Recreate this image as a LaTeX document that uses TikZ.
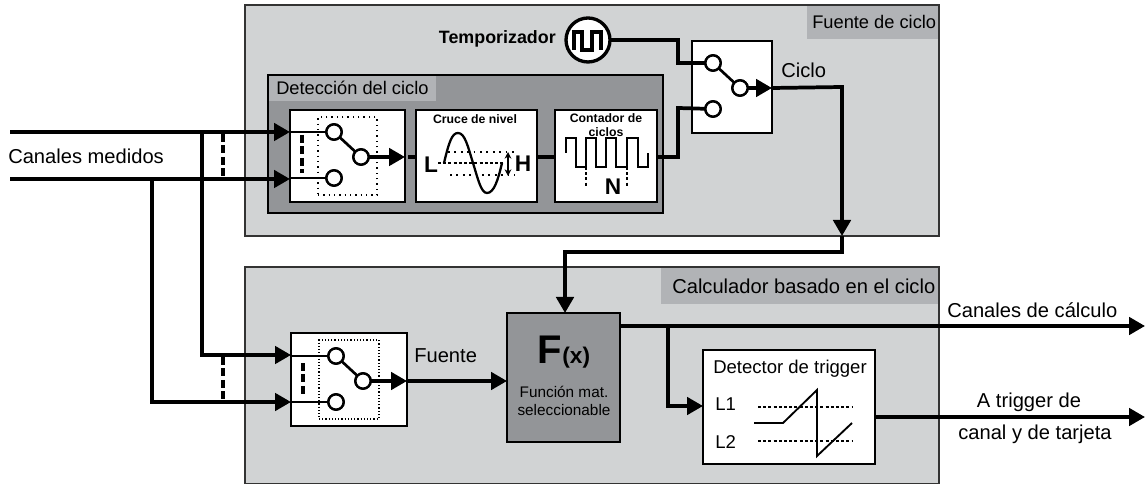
\documentclass[tikz,border=0pt]{standalone}
\usepackage{fontspec}
\setmainfont{Liberation Sans}
\usetikzlibrary{arrows.meta}
\definecolor{panel}{HTML}{D1D3D4}
\definecolor{tag}{HTML}{B1B3B6}
\definecolor{dark}{HTML}{939598}
\newcommand{\PxBox}[6]{\node[#6,minimum width={(#4-#2)*0.75pt},minimum height={(#5-#3)*0.75pt}] (#1) at ({(#2+#4)/2},{(#3+#5)/2}) {};}
\newcommand{\SwitchParts}[3]{%
  \node[swc] (#1a) at (#2,#3) {};
  \node[swc] (#1b) at (#2+27,#3+25) {};
  \node[swc] (#1c) at (#2,#3+46) {};
  \draw[thin line] (#1a) -- (#1b);
}
\tikzset{
  x=0.75pt,y=-0.75pt,
  pan/.style={draw=black!80,line width=0.9pt,fill=panel,inner sep=0pt,outer sep=0pt},
  tagbox/.style={fill=tag,inner sep=0pt,outer sep=0pt},
  darkbox/.style={draw=black,line width=1.4pt,fill=dark,inner sep=0pt,outer sep=0pt},
  wbox/.style={draw=black,line width=1.7pt,fill=white,inner sep=0pt,outer sep=0pt},
  dotbox/.style={draw=black,line width=1pt,dash pattern=on 1pt off 3pt,inner sep=0pt,outer sep=0pt},
  dotboxfine/.style={draw=black,line width=0.9pt,dash pattern=on 0.9pt off 1.5pt,inner sep=0pt,outer sep=0pt},
  swc/.style={circle,draw=black,line width=1.8pt,fill=white,minimum size=11.5pt,inner sep=0pt,outer sep=0pt},
  thick line/.style={draw=black,line width=2.8pt},
  thin line/.style={draw=black,line width=2pt},
  wire/.style={thick line,-{Triangle[length=12pt,width=13pt]}},
  inwire/.style={draw=black,line width=2pt},
  dashline/.style={draw=black,line width=2.8pt,dash pattern=on 6pt off 2.6pt},
  txt/.style={font=\fontsize{15.1pt}{17pt}\selectfont,inner sep=0pt},
  txtb/.style={font=\fontsize{13.7pt}{15pt}\selectfont,inner sep=0pt},
  bsm/.style={font=\fontsize{9.2pt}{10.5pt}\selectfont\bfseries,inner sep=0pt,align=center},
  blab/.style={inner sep=0pt,font=\fontsize{17pt}{18pt}\selectfont\bfseries},
  dotl/.style={draw=black,line width=1.3pt,dash pattern=on 1.4pt off 3.4pt},
  dashl/.style={draw=black,line width=1.2pt,dash pattern=on 2.3pt off 1.6pt},
}
\begin{document}
\begin{tikzpicture}
\useasboundingbox (0,0) rectangle (1145,484);
% panels
\PxBox{top}{245}{5}{939}{236}{pan}
\PxBox{topTag}{807}{6}{938}{39}{tagbox}
\PxBox{bot}{245}{267}{939}{484}{pan}
\PxBox{botTag}{661}{268}{938}{304}{tagbox}
\PxBox{det}{268}{75}{663}{213}{darkbox}
\PxBox{detTag}{269}{76}{436}{101}{tagbox}
\node[txtb,anchor=west] (tTop) at (812,22) {Fuente de ciclo};
\node[txt,anchor=west] (tBot) at (672,286) {Calculador basado en el ciclo};
\node[txtb,anchor=west] (tDet) at (276,88) {Detección del ciclo};
% boxes
\PxBox{s1}{290}{110}{405}{202}{wbox}
\PxBox{lvl}{416}{110}{537}{202}{wbox}
\PxBox{cnt}{555}{110}{657}{202}{wbox}
\PxBox{s2}{692}{41}{772}{133}{wbox}
\PxBox{s3}{291}{333}{407}{426}{wbox}
\PxBox{fx}{507}{313}{620}{442}{darkbox}
\PxBox{trg}{703}{350}{875}{464}{wbox}
\node[circle,draw=black,line width=2.5pt,fill=white,minimum size=33pt,inner sep=0pt,outer sep=0pt] (tmr) at (588,40) {};
% named ends
\coordinate (inA) at (10,132);
\coordinate (inB) at (10,179);
\coordinate (jA) at (202,132);
\coordinate (jB) at (152,179);
\coordinate (outA) at (1145,326);
\coordinate (outB) at (1145,417);
\coordinate (cyc) at (842,236);
\coordinate (branch) at (668,326);
\coordinate (dA1) at (223,134);
\coordinate (dA2) at (223,178);
\coordinate (dB1) at (223,357);
\coordinate (dB2) at (223,400);
% dotted frames
\PxBox{d1}{318}{117}{377}{195}{dotbox}
\PxBox{d3}{319}{340}{379}{419}{dotboxfine}
% input wiring
\draw[wire] (inA) -- (inA -| s1.west);
\draw[wire] (inB) -- (inB -| s1.west);
\draw[wire] (jA) -- (202,355) -- (291,355);
\draw[wire] (jB) -- (152,402) -- (291,402);
\draw[dashline] (dA1) -- (dA2);
\draw[dashline] (dB1) -- (dB2);
% switches
\SwitchParts{p}{334}{132}
\SwitchParts{q}{713}{63}
\SwitchParts{r}{336}{356}
\draw[inwire] (s1.west |- pa) -- (pa);
\draw[inwire] (s1.west |- pc) -- (pc);
\draw[inwire] (s3.west |- ra) -- (ra);
\draw[inwire] (s3.west |- rc) -- (rc);
\draw[dashline] (302,135) -- (302,173);
\draw[dashline] (303,363) -- (303,397);
\draw[wire] (pb) -- (pb -| s1.east);
\draw[wire] (rb) -- (rb -| s3.east);
\draw[wire] (qb) -- (qb -| s2.east);
% main wiring
\draw[thick line] (s1.east |- pb) ++(3,0) -- (lvl.west |- pb);
\draw[thick line] (lvl.east |- pb) -- (cnt.west |- pb);
\draw[thick line] (cnt.east |- pb) -- (678,157) -- (678,108) -- (qc);
\draw[thick line] (tmr) -- (678,40) -- (678,63) -- (qa);
\draw[wire] (s2.east |- qb) -- (842,87) -- (cyc);
\draw[wire,-{Triangle[length=12pt,width=13pt]}] (cyc) -- (842,252) -- (565,252) -- (565,313);
\draw[wire] (s3.east |- rb) -- (fx.west |- rb);
\draw[wire] (620,326) -- (outA);
\draw[wire] (branch) -- (668,406) -- (703,406);
\draw[wire] (875,417) -- (outB);
% redraw circles above wires
\node[swc] at (pa) {}; \node[swc] at (pb) {}; \node[swc] at (pc) {};
\node[swc] at (qa) {}; \node[swc] at (qb) {}; \node[swc] at (qc) {};
\node[swc] at (ra) {}; \node[swc] at (rb) {}; \node[swc] at (rc) {};
% timer glyph
\draw[draw=black,line width=2.8pt] (574,50) -- (574,32) -- (582,32) -- (582,50) -- (592,50) -- (592,32) -- (601,32) -- (601,50);
% level crossing
\node[bsm] (tLvl) at (475,119) {Cruce de nivel};
\draw[dotl] (448,152) -- (515,152);
\draw[dotl] (450,175) -- (515,175);
\draw[dashl] (438,163) -- (505,163);
\draw[draw=black,line width=1.7pt] (444,163) .. controls (449,142) and (452,133) .. (458,133) .. controls (465,133) and (468,147) .. (473,163) .. controls (478,179) and (481,193) .. (487,193) .. controls (494,193) and (498,180) .. (502,163);
\draw[draw=black,line width=1.4pt,{Stealth[length=5pt,width=5pt]}-{Stealth[length=5pt,width=5pt]}] (508,152) -- (508,176);
\node[blab] (tL) at (431,165) {L};
\node[blab] (tH) at (523,164) {H};
% counter
\node[bsm] (tCnt) at (606,125) {Contador de\\[-0.5pt]ciclos};
\draw[draw=black,line width=1.7pt] (566,153) -- (566,138) -- (576,138) -- (576,167) -- (586,167) -- (586,138) -- (596,138) -- (596,167) -- (606,167) -- (606,138) -- (616,138) -- (616,167) -- (627,167) -- (627,138) -- (638,138) -- (638,167) -- (648,167) -- (648,153);
\draw[dashl] (586,167) -- (586,186);
\draw[dashl] (627,167) -- (627,186);
\node[blab] (tN) at (613,187) {N};
% labels
\node[txt,anchor=west] (tIn) at (8,156) {Canales medidos};
\node[anchor=east,inner sep=0pt,font=\fontsize{13.4pt}{15pt}\selectfont\bfseries] (tTmr) at (556,39) {Temporizador};
\node[txt,anchor=west] (tCic) at (781,70) {Ciclo};
\node[txt,anchor=west] (tFue) at (414,356) {Fuente};
\node[txt,anchor=west] (tOutA) at (947,310) {Canales de cálculo};
\node[txt] (tOutB1) at (1029,402) {A trigger de};
\node[txt] (tOutB2) at (1035,434) {canal y de tarjeta};
% F(x)
\node[inner sep=0pt,font=\bfseries] (tF) at (564,352) {\fontsize{30pt}{32pt}\selectfont F\fontsize{17pt}{18pt}\selectfont(x)};
\node[inner sep=0pt,align=center,font=\fontsize{11.5pt}{14pt}\selectfont] (tFn) at (564,401) {Función mat.\\seleccionable};
% trigger
\node[font=\fontsize{13.9pt}{15pt}\selectfont,inner sep=0pt] (tTrg) at (790,369) {Detector de trigger};
\node[font=\fontsize{13.9pt}{15pt}\selectfont,inner sep=0pt,anchor=west] (tL1) at (715,404) {L1};
\node[font=\fontsize{13.9pt}{15pt}\selectfont,inner sep=0pt,anchor=west] (tL2) at (715,442) {L2};
\draw[dashl] (758,407) -- (853,407);
\draw[dashl] (758,441) -- (853,441);
\draw[draw=black,line width=1.4pt] (754,423) -- (783,423) -- (817,390) -- (817,456) -- (852,423);
\end{tikzpicture}
\end{document}
